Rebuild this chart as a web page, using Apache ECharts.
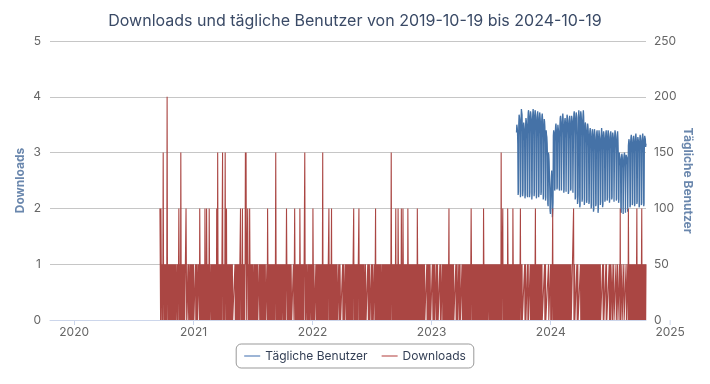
<!DOCTYPE html>
<html>
<head>
<meta charset="utf-8">
<script src="https://cdn.jsdelivr.net/npm/echarts/dist/echarts.min.js"></script>
<style>html,body{margin:0;padding:0;background:#fff}#c{width:710px;height:384px}</style>
</head>
<body>
<div id="c"></div>
<script>
const titleText = 'Downloads und tägliche Benutzer von 2019-10-19 bis 2024-10-19';
const rangeStart = '2019-10-19';
const rangeEnd = '2024-10-19';
const seriesNames = ['Tägliche Benutzer', 'Downloads'];
const leftTicks = [0, 1, 2, 3, 4, 5];
const rightTicks = [0, 50, 100, 150, 200, 250];
const extraYearLabel = '2025';

// Daily downloads, starting 2020-09-20 (rows of 30 days)
const downloadsStart = '2020-09-20';
const downloads = [
  2,1,0,2,1,1,0,1,0,1, 3,1,0,1,1,0,1,0,1,1, 0,1,4,1,0,1,1,0,1,0,
  1,1,0,1,0,1,1,0,1,1, 0,1,0,1,1,0,1,0,1,1, 0,0,1,1,0,1,0,1,2,1,
  0,1,1,0,3,1,0,1,1,0, 1,0,1,1,0,1,0,0,1,1, 2,1,0,0,0,0,1,0,1,1,
  1,0,1,1,0,1,0,1,1,0, 1,1,0,1,0,0,0,0,0,1, 0,1,1,0,1,0,0,0,1,1,
  1,0,2,1,0,1,1,0,1,1, 0,1,0,1,1,0,1,0,2,1, 0,1,0,2,1,0,1,1,0,1,
  0,2,1,0,0,0,1,0,1,1, 0,1,1,0,1,0,1,1,0,1, 1,0,1,0,2,1,0,3,1,0,
  1,1,0,1,0,1,1,0,1,0, 1,1,3,0,1,0,1,1,0,1, 3,1,0,1,2,0,1,0,1,1,
  0,1,1,0,1,0,1,1,0,1, 1,0,1,0,0,0,0,0,0,0, 1,0,1,1,0,1,0,1,1,0,
  1,0,1,1,0,1,1,2,0,1, 1,0,1,2,0,1,1,0,1,1, 0,1,3,1,3,1,0,1,1,2,
  1,0,1,1,0,2,1,0,1,0, 1,1,0,1,0,1,1,0,0,1, 0,1,1,0,1,0,1,1,0,1,
  0,0,0,0,1,1,0,1,1,0, 1,0,1,1,0,1,0,1,1,0, 1,1,0,1,0,0,0,0,1,0,
  2,1,0,1,1,0,1,0,1,1, 0,1,1,0,1,0,1,1,0,1, 1,0,1,0,1,3,1,0,1,1,
  0,1,0,1,1,0,1,1,0,1, 0,1,1,0,1,0,0,1,1,0, 1,0,1,1,0,1,0,1,2,1,
  1,0,1,0,1,1,0,1,0,1, 1,0,1,1,0,0,0,0,0,1, 1,0,1,2,1,0,1,1,0,1,
  0,1,1,0,1,0,1,1,0,2, 1,0,1,0,1,1,0,1,1,0, 1,0,1,1,3,1,0,1,0,1,
  1,1,0,1,0,1,1,0,1,0, 0,1,1,0,1,0,1,1,0,2, 1,0,1,1,0,0,0,0,1,0,
  1,0,1,1,0,1,0,1,1,0, 1,1,0,1,0,1,1,0,1,3, 0,1,0,1,1,0,1,0,1,1,
  0,1,1,0,1,0,1,1,2,0, 1,0,1,1,0,1,2,0,1,1, 0,1,0,1,1,0,1,0,1,0,
  1,1,0,1,0,0,0,0,1,0, 1,0,1,1,0,0,0,0,0,0, 1,0,1,0,1,1,0,0,0,1,
  1,0,1,1,0,1,0,1,0,1, 1,0,1,0,1,1,0,1,1,0, 1,0,1,1,2,0,1,0,1,1,
  0,1,0,1,1,0,1,0,1,1, 2,0,1,1,0,1,0,1,0,1, 1,0,1,0,1,1,0,0,1,0,
  1,1,0,0,0,0,0,1,1,0, 1,0,1,1,0,0,0,0,1,0, 1,1,0,1,0,0,0,0,1,0,
  1,2,0,1,0,1,1,0,1,0, 1,1,0,1,0,1,0,1,1,0, 0,1,0,1,1,0,1,0,1,1,
  0,1,1,0,1,0,1,0,1,1, 0,1,0,1,1,0,1,0,1,3, 1,0,1,1,0,1,0,1,0,1,
  1,0,1,2,0,1,1,0,1,0, 2,1,0,1,0,1,1,0,1,0, 2,1,0,1,0,2,1,0,1,1,
  0,1,0,1,1,0,1,0,1,0, 2,1,0,1,1,0,1,0,1,1, 0,1,0,1,0,1,1,0,1,0,
  1,0,1,1,0,1,0,1,0,2, 1,0,1,0,1,1,0,1,0,1, 1,0,1,0,1,0,1,1,0,1,
  0,1,0,0,0,0,0,0,1,0, 1,1,0,1,0,0,1,0,1,1, 0,0,0,0,0,1,1,0,1,0,
  1,0,1,0,0,0,0,1,0,1, 0,1,1,0,0,0,0,0,1,1, 0,1,0,0,0,0,1,0,0,1,
  0,1,1,0,1,0,1,0,1,1, 0,1,0,1,0,1,2,0,1,0, 1,1,0,1,0,1,0,1,1,0,
  1,0,0,0,0,0,0,1,0,1, 0,1,0,0,0,0,1,0,1,0, 1,0,0,0,0,0,1,0,1,0,
  1,1,0,1,0,1,0,1,1,0, 1,0,1,0,1,1,0,1,0,1, 0,1,0,1,2,1,0,1,0,1,
  0,0,1,0,1,0,0,1,0,1, 0,0,1,0,0,1,0,1,0,0, 1,0,0,1,0,1,0,0,1,0,
  1,0,2,1,0,1,0,1,1,0, 1,0,1,0,1,0,0,1,1,0, 1,0,1,0,1,1,0,1,0,1,
  0,1,0,1,0,1,1,0,1,0, 1,0,1,1,0,1,0,1,0,1, 0,1,1,0,1,0,3,1,0,1,
  1,2,0,1,0,1,0,1,1,0, 1,0,1,0,1,0,2,1,0,1, 0,1,0,1,1,0,1,0,1,0,
  1,0,2,1,0,0,1,0,1,0, 0,1,0,1,0,0,1,0,1,0, 0,1,0,0,1,2,0,1,0,0,
  1,0,0,0,0,0,0,0,1,0, 0,1,0,0,0,0,0,1,0,1, 0,0,0,0,0,1,0,1,0,0,
  1,0,1,0,0,1,0,0,1,0, 1,2,0,0,1,0,0,1,0,0, 1,0,1,0,0,1,0,0,1,0,
  0,1,0,0,0,0,0,0,0,1, 0,0,1,0,0,0,0,0,0,0, 0,1,0,0,0,0,0,1,0,0,
  1,0,0,1,2,0,1,0,0,1, 0,1,0,0,1,0,1,0,0,1, 0,0,1,0,1,0,0,1,0,1,
  0,1,1,0,1,0,1,1,0,1, 0,1,0,1,1,0,1,0,1,0, 0,1,0,1,0,0,1,0,1,0,
  1,0,0,0,0,0,0,0,2,0, 0,1,0,0,0,0,0,0,1,0, 0,1,0,0,0,0,0,0,0,1,
  0,1,0,1,1,0,1,0,1,0, 1,1,0,1,0,1,0,1,1,0, 1,0,1,0,0,1,0,0,1,0,
  1,0,1,0,1,0,1,1,0,1, 0,1,0,1,0,0,1,0,1,0, 1,1,0,1,0,1,0,0,1,0,
  1,0,0,0,0,0,0,1,1,0, 1,0,0,0,0,0,0,1,0,1, 0,0,0,0,0,0,0,1,0,1,
  0,1,0,0,0,0,1,0,0,0, 0,1,0,0,0,0,0,0,1,0, 0,0,0,1,0,0,0,0,0,1,
  0,2,0,0,0,0,1,0,0,0, 0,0,1,0,0,0,0,0,0,1, 0,0,0,0,1,0,2,1,0,1,
  0,1,0,1,0,0,1,0,1,0, 0,1,0,0,1,0,1,0,0,1, 0,1,2,0,1,0,0,1,0,1,
  0,1,0,0,1,0,1,2,0,0, 1,0,1,0,0,1,0,0,1,0, 1
];

// Daily users, starting Monday 2023-09-18 (one row per week, Mon..Sun)
const usersStart = '2023-09-18';
const users = [
  168,175,173,170,158,112,115,
  176,184,182,179,165,110,113,
  180,189,190,184,168,111,116,
  172,177,176,171,160,109,112,
  175,181,179,175,162,112,110,
  180,186,188,183,166,110,114,
  182,187,185,181,167,108,113,
  179,185,189,184,165,111,115,
  183,188,186,182,168,109,112,
  178,184,187,180,163,110,114,
  181,186,184,179,166,112,115,
  177,183,185,180,162,108,111,
  174,180,178,173,158,107,110,
  170,166,164,158,146,104,102,
  150,148,142,130,118,98,95,
  96,118,128,134,125,92,91,
  105,165,170,168,156,116,118,
  168,174,176,171,160,117,119,
  170,175,172,169,158,118,116,
  174,181,183,178,164,116,115,
  176,182,185,180,166,114,117,
  173,179,181,177,163,115,116,
  177,184,182,179,165,113,115,
  175,180,183,176,162,116,118,
  178,183,181,178,164,114,115,
  179,185,187,182,166,108,110,
  180,186,184,181,165,104,106,
  112,182,188,183,167,101,103,
  181,187,185,180,164,106,109,
  178,184,188,182,163,103,107,
  172,177,175,170,158,105,108,
  170,176,174,169,155,104,106,
  165,170,172,167,152,100,103,
  163,169,171,166,150,97,99,
  166,171,168,164,151,102,104,
  160,168,170,165,149,96,100,
  164,170,169,163,150,103,106,
  162,167,172,166,151,101,104,
  165,169,167,163,152,106,108,
  163,168,170,164,150,107,110,
  166,170,168,162,151,105,109,
  164,167,169,165,153,108,110,
  162,168,167,163,150,106,107,
  165,170,168,164,152,107,109,
  161,166,169,162,149,105,108,
  150,148,146,144,138,98,96,
  146,149,147,143,136,95,94,
  145,148,150,146,137,96,97,
  148,147,149,145,139,97,98,
  156,160,162,158,148,101,103,
  160,164,166,161,150,103,105,
  158,163,165,160,149,102,104,
  161,165,167,162,151,104,106,
  159,164,163,160,150,101,103,
  162,166,164,161,152,103,105,
  160,165,167,163,150,102,104,
  161,165,166,162,155,158
];

const DAY = 86400000;
function toSeries(startStr, values) {
  const t0 = new Date(startStr + 'T00:00:00').getTime();
  return values.map((v, i) => [t0 + i * DAY, v]);
}

const FONT = 'Inter, "Noto Sans", sans-serif';
const chart = echarts.init(document.getElementById('c'), null, { renderer: 'canvas' });

chart.setOption({
  animation: false,
  backgroundColor: '#ffffff',
  title: {
    text: titleText,
    left: 'center',
    top: 8,
    textStyle: { fontFamily: FONT, fontSize: 16, fontWeight: 'normal', color: '#3a4a66' }
  },
  grid: { left: 50, right: 64, top: 41, bottom: 64, containLabel: false },
  legend: {
    bottom: 16,
    left: 'center',
    data: [
      { name: seriesNames[0], itemStyle: { color: '#9db5d6' } },
      { name: seriesNames[1], itemStyle: { color: '#d89d9c' } }
    ],
    icon: 'rect',
    itemWidth: 16,
    itemHeight: 2,
    itemGap: 14,
    padding: [6, 8, 6, 8],
    borderColor: '#999999',
    borderWidth: 1,
    borderRadius: 5,
    textStyle: { fontFamily: FONT, fontSize: 12, color: '#333f55' }
  },
  xAxis: {
    type: 'time',
    min: new Date(rangeStart + 'T00:00:00').getTime(),
    max: new Date(rangeEnd + 'T00:00:00').getTime(),
    minInterval: 365 * DAY,
    axisLine: { show: true, lineStyle: { color: '#ccd6eb', width: 1 } },
    axisTick: { show: true, length: 5, lineStyle: { color: '#ccd6eb' } },
    axisLabel: {
      formatter: '{yyyy}',
      color: '#666666',
      fontFamily: FONT,
      fontSize: 12,
      margin: 6,
      showMinLabel: false,
      showMaxLabel: false
    },
    splitLine: { show: false }
  },
  yAxis: [
    {
      type: 'value',
      min: leftTicks[0],
      max: leftTicks[leftTicks.length - 1],
      interval: leftTicks[1] - leftTicks[0],
      name: 'Downloads',
      nameLocation: 'middle',
      nameGap: 24,
      nameMoveOverlap: false,
      nameTextStyle: { fontFamily: FONT, fontSize: 12, fontWeight: 'bold', color: '#6a87ad' },
      axisLine: { show: false },
      axisTick: { show: false },
      axisLabel: { color: '#666666', fontFamily: FONT, fontSize: 12, margin: 9 },
      splitLine: { show: true, lineStyle: { color: '#c6c6c6', width: 1 } }
    },
    {
      type: 'value',
      min: rightTicks[0],
      max: rightTicks[rightTicks.length - 1],
      interval: rightTicks[1] - rightTicks[0],
      name: 'Tägliche Benutzer',
      nameLocation: 'middle',
      nameGap: 36,
      nameMoveOverlap: false,
      nameRotate: -90,
      nameTextStyle: { fontFamily: FONT, fontSize: 12, fontWeight: 'bold', color: '#6a87ad' },
      axisLine: { show: false },
      axisTick: { show: false },
      axisLabel: { color: '#666666', fontFamily: FONT, fontSize: 12, margin: 8 },
      splitLine: { show: false }
    }
  ],
  series: [
    {
      name: seriesNames[0],
      type: 'line',
      yAxisIndex: 1,
      data: toSeries(usersStart, users),
      showSymbol: false,
      symbol: 'none',
      lineStyle: { color: '#4572A7', width: 1.3 },
      itemStyle: { color: '#4572A7' },
      z: 2
    },
    {
      name: seriesNames[1],
      type: 'line',
      yAxisIndex: 0,
      data: toSeries(downloadsStart, downloads),
      showSymbol: false,
      symbol: 'none',
      lineStyle: { color: '#AA4643', width: 1.1 },
      itemStyle: { color: '#AA4643' },
      z: 3
    }
  ]
});

// Year label beyond the plot end (as in the reference)
const px = chart.convertToPixel({ xAxisIndex: 0 }, new Date(extraYearLabel + '-01-01T00:00:00').getTime());
const py = chart.convertToPixel({ yAxisIndex: 0 }, 0);
chart.setOption({
  graphic: [
    { type: 'line', shape: { x1: px, y1: py, x2: px, y2: py + 5 }, style: { stroke: '#ccd6eb', lineWidth: 1 } },
    { type: 'text', x: px, y: py + 6, style: { text: extraYearLabel, align: 'center', verticalAlign: 'top', fill: '#666666', font: '12px ' + FONT } }
  ]
});
</script>
</body>
</html>
